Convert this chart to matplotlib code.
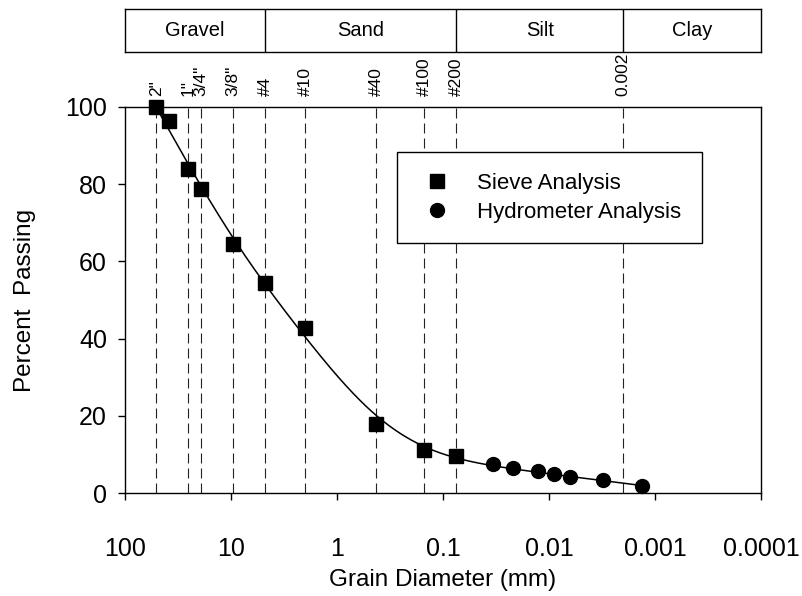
import numpy as np
import matplotlib
matplotlib.use("Agg")
import matplotlib.pyplot as plt
from matplotlib.ticker import NullLocator
from matplotlib.lines import Line2D

plt.rcParams['font.family'] = ['Liberation Sans', 'DejaVu Sans']

# sieve results
sieve_d = [50.8, 38.1, 25.4, 19.05, 9.525, 4.75, 2.0, 0.425, 0.15, 0.075]
sieve_p = [100.0, 96.4, 83.9, 78.7, 64.5, 54.3, 42.7, 17.8, 11.1, 9.6]

# hydrometer results
hydro_d = [0.0337, 0.0217, 0.0127, 0.00895, 0.0064, 0.00312, 0.00134]
hydro_p = [7.5, 6.6, 5.6, 4.9, 4.1, 3.45, 1.9]

# reference lines at the top
sieve_names = ['2"', '1"', '3/4"', '3/8"', '#4', '#10', '#40', '#100', '#200', '0.002']
sieve_sizes = [50.8, 25.4, 19.05, 9.525, 4.75, 2.0, 0.425, 0.15, 0.075, 0.002]

# soil classes
class_names = ['Gravel', 'Sand', 'Silt', 'Clay']
class_bounds = [100, 4.75, 0.075, 0.002, 0.0001]

xticks = [100, 10, 1, 0.1, 0.01, 0.001, 0.0001]
xtick_labels = ['100', '10', '1', '0.1', '0.01', '0.001', '0.0001']


def smooth_fit(x, y, n=600, p=0.05):
    # penalised least squares on a fine grid (smoothing spline style)
    x = np.asarray(x, float)
    y = np.asarray(y, float)
    g = np.linspace(x.min(), x.max(), n)
    h = g[1] - g[0]
    A = np.zeros((len(x), n))
    for i, xi in enumerate(x):
        j = min(int((xi - g[0]) / h), n - 2)
        f = (xi - g[j]) / h
        A[i, j] = 1 - f
        A[i, j + 1] = f
    D = np.diff(np.eye(n), 2, axis=0)
    M = A.T @ A + p / h**3 * (D.T @ D)
    z = np.linalg.solve(M, A.T @ y)
    return g, z


fig = plt.figure(figsize=(8.03, 5.96), dpi=100)
ax = fig.add_axes([0.1557, 0.1728, 0.792, 0.6477])

ax.set_xscale('log')
ax.set_xlim(100, 0.0001)
ax.set_ylim(0, 100)

# dashed sieve lines
for s in sieve_sizes:
    ax.axvline(s, color='#222222', lw=0.8, dashes=(9, 4.5), zorder=1)

for name, s in zip(sieve_names, sieve_sizes):
    ax.text(s, 1.029, name, transform=ax.get_xaxis_transform(),
            rotation=90, ha='center', va='bottom', fontsize=12.5)

# fitted gradation curve
all_d = np.array(sieve_d + hydro_d)
all_p = np.array(sieve_p + hydro_p)
u, z = smooth_fit(-np.log10(all_d), all_p)
ax.plot(10 ** (-u), z, color='black', lw=1.1, zorder=2)

ax.plot(sieve_d, sieve_p, 's', color='black', ms=10, clip_on=False, zorder=3)
ax.plot(hydro_d, hydro_p, 'o', color='black', ms=10, clip_on=False, zorder=3)

ax.set_xticks(xticks, labels=xtick_labels)
ax.xaxis.set_minor_locator(NullLocator())
ax.set_yticks([0, 20, 40, 60, 80, 100])
ax.tick_params(axis='both', direction='out', length=5, width=1, labelsize=18)
ax.tick_params(axis='x', pad=27)
ax.tick_params(axis='y', pad=8)
for sp in ax.spines.values():
    sp.set_linewidth(1.0)

ax.set_xlabel('Grain Diameter (mm)', fontsize=17.5, va='center')
ax.xaxis.set_label_coords(0.5, -0.225)
ax.set_ylabel('Percent  Passing', fontsize=17.5, va='center')
ax.yaxis.set_label_coords(-0.157, 0.5)

handles = [Line2D([], [], ls='none', marker='s', color='black', ms=10),
           Line2D([], [], ls='none', marker='o', color='black', ms=10)]
leg = ax.legend(handles, ['Sieve Analysis', 'Hydrometer Analysis'],
                loc='upper left', bbox_to_anchor=(0.4277, 0.883),
                borderaxespad=0, fontsize=16, frameon=True, fancybox=False,
                borderpad=0.92, labelspacing=0.38, handlelength=1.8,
                handletextpad=0.9)
leg.get_frame().set_edgecolor('black')
leg.get_frame().set_linewidth(1.0)
leg.get_frame().set_alpha(1)

# classification bar above the plot
top = fig.add_axes([0.1557, 0.9128, 0.792, 0.0721])
top.set_xscale('log')
top.set_xlim(100, 0.0001)
top.set_ylim(0, 1)
top.set_xticks([])
top.set_yticks([])
top.xaxis.set_minor_locator(NullLocator())
for sp in top.spines.values():
    sp.set_linewidth(1.0)
for b in class_bounds[1:-1]:
    top.axvline(b, color='black', lw=1.0)
for i, name in enumerate(class_names):
    xc = np.sqrt(class_bounds[i] * class_bounds[i + 1])
    top.text(xc, 0.5, name, ha='center', va='center', fontsize=14.5)

fig.savefig('out.png', dpi=100)
